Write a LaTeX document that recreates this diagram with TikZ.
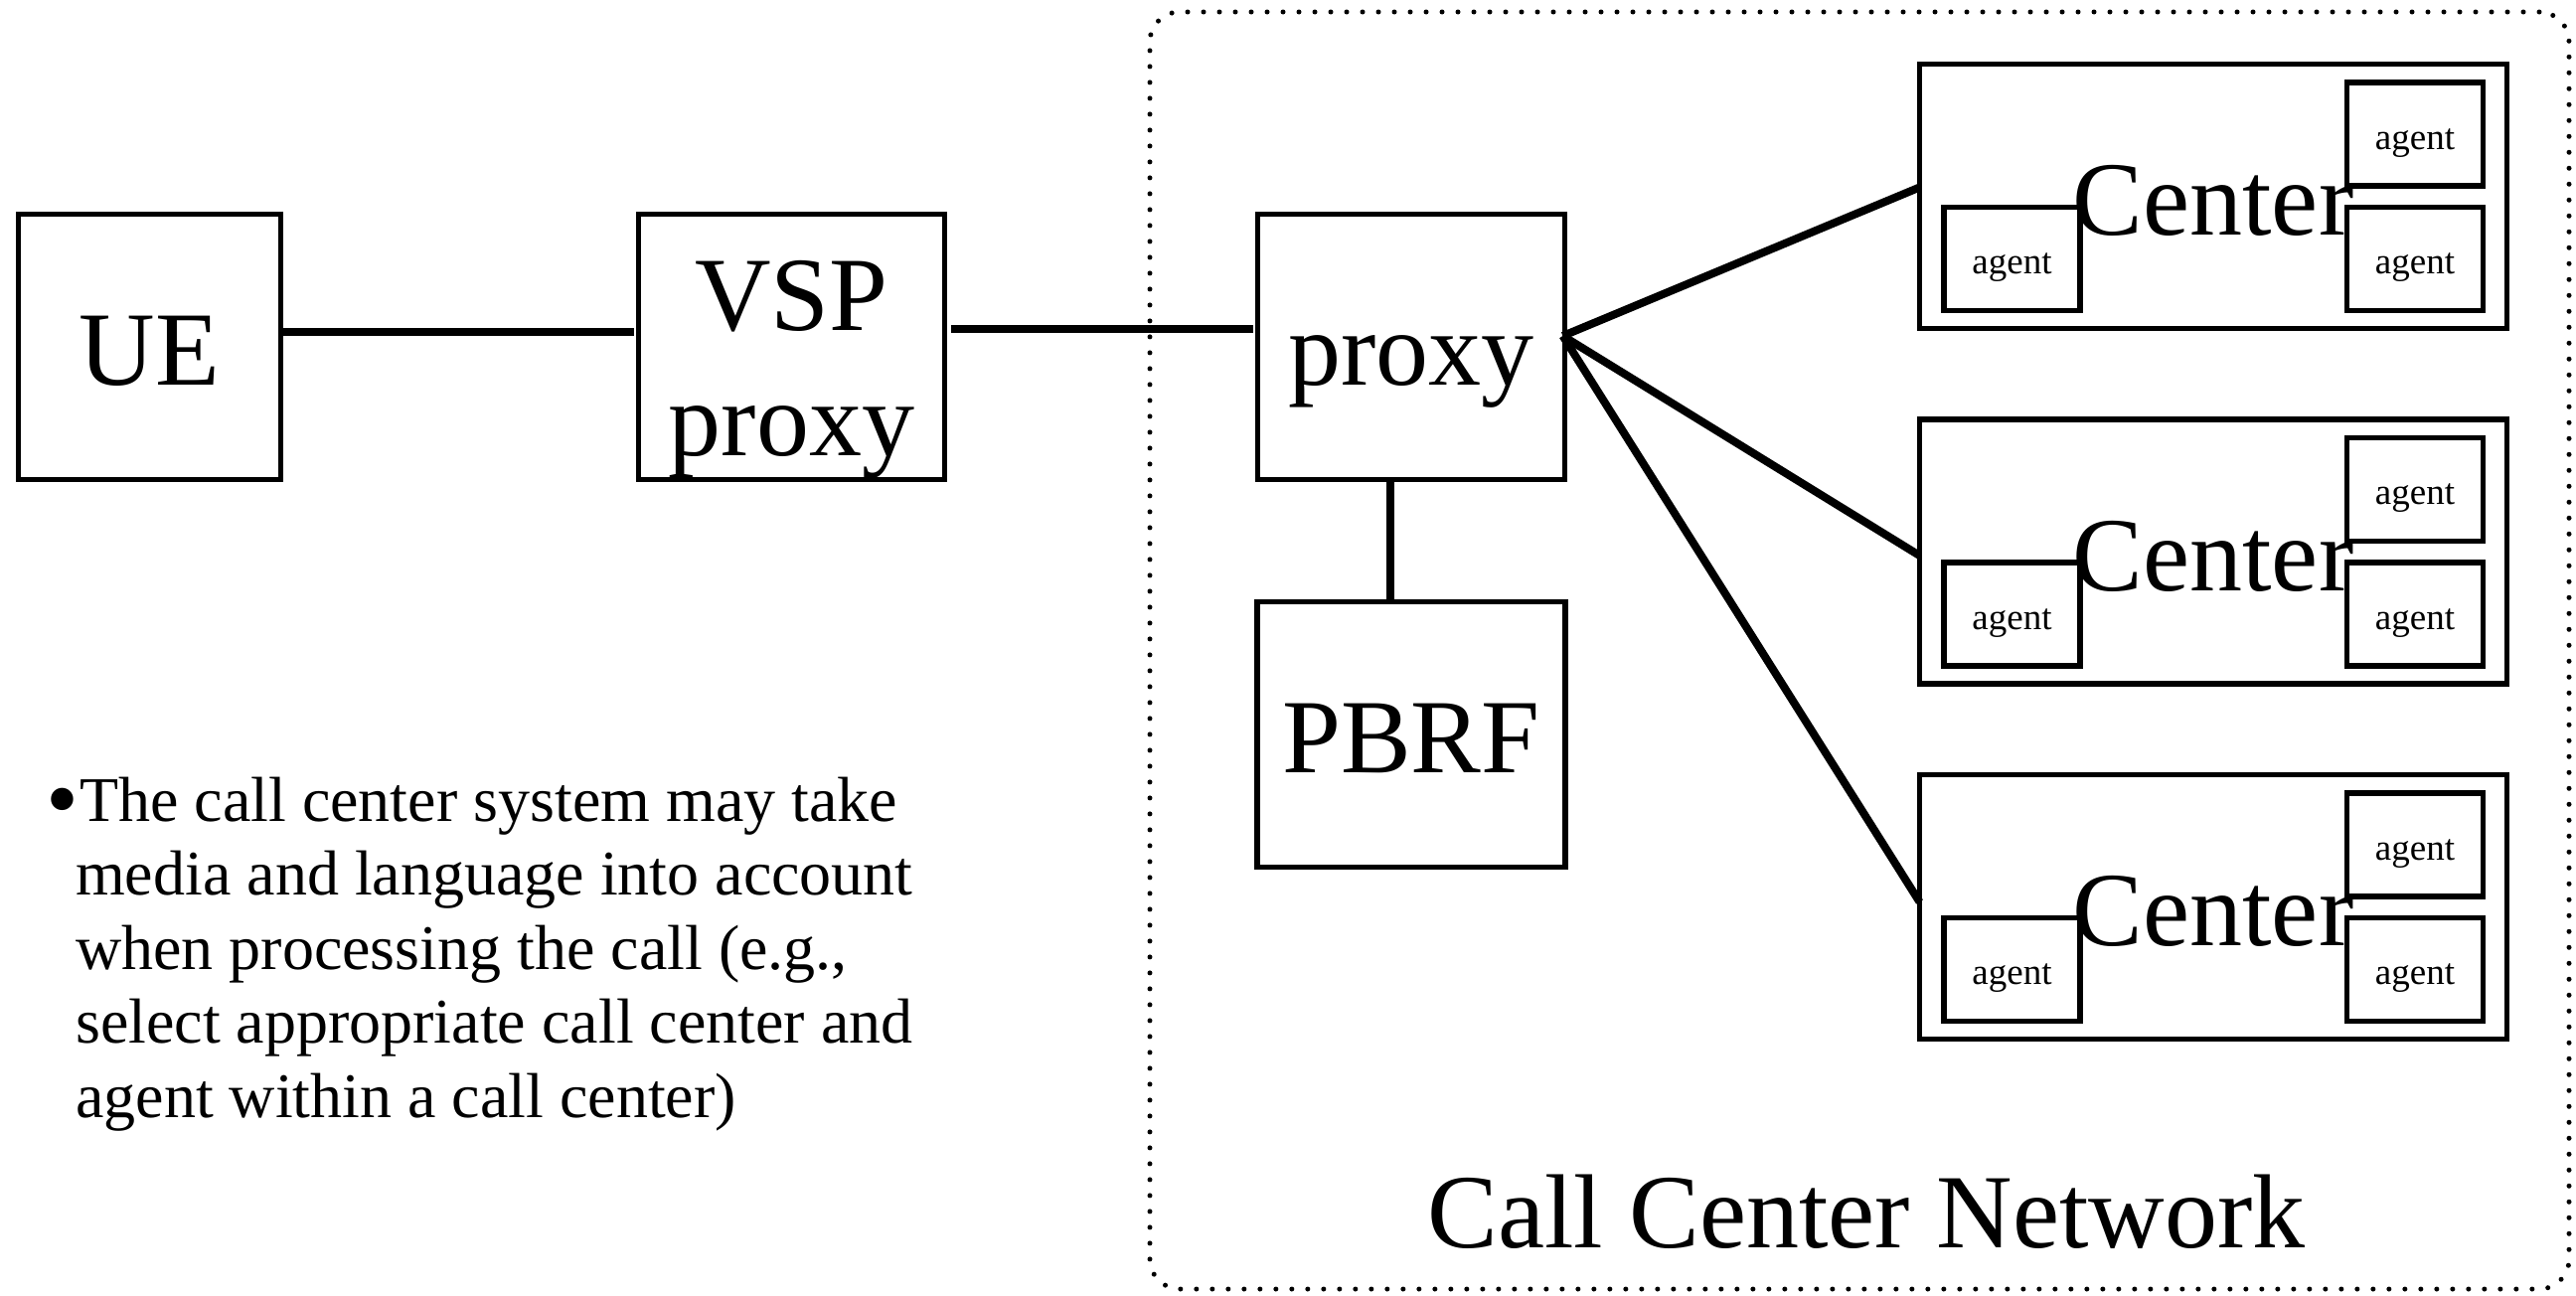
\documentclass[tikz,border=0pt]{standalone}
\usepackage{fontspec}
\setmainfont{Liberation Serif}
\usetikzlibrary{calc}
% lower (or raise) a label without changing the box size, so nodes stay centred
\newcommand\shiftbase[2]{\raisebox{#1}[0pt][0pt]{#2}}
\begin{document}
\begin{tikzpicture}[x=1pt,y=-1pt,
  plainbox/.style={draw, shape=rectangle, line width=5.5pt, inner sep=0pt, outer sep=0pt},
  bigtext/.style={font=\fontsize{106}{126}\selectfont},
  netbox/.style={plainbox, bigtext, minimum width=309pt, minimum height=267pt},
  centerbox/.style={plainbox, bigtext, minimum width=591pt, minimum height=266pt},
  agentbox/.style={plainbox, minimum width=137pt, minimum height=104pt, font=\fontsize{37}{44}\selectfont},
  link/.style={line width=8pt},
  ccnframe/.style={draw, shape=rectangle, line width=5pt, dash pattern=on 0pt off 16pt, line cap=round,
                   rounded corners=30pt, inner sep=0pt, outer sep=0pt}
]
\useasboundingbox (0,0) rectangle (2592,1304);

% call center network frame and its caption
\node[ccnframe, minimum width=1428pt, minimum height=1285pt] (ccn) at (1871,654.5) {};
\node[bigtext, anchor=base, inner sep=0pt] (ccnlabel) at (1878,1255) {Call Center Network};

% chain from the user equipment to the call center proxy
\node[netbox, minimum width=264pt] (ue) at (150.5,349) {\shiftbase{-38pt}{UE}};
\node[netbox, minimum width=308pt] (vsp) at (796.5,349)
  {\shiftbase{17pt}{\begin{tabular}[t]{@{}c@{}}VSP\\proxy\end{tabular}}};
\node[netbox] (proxy) at (1420,349) {\shiftbase{-38pt}{proxy}};
\node[netbox, minimum width=310pt] (pbrf) at (1420,739) {\shiftbase{-38pt}{PBRF}};

% three call centers, each with three agents
\foreach \i/\y in {1/197.5,2/555,3/912.5}{
  \node[centerbox] (c\i) at (2227,\y) {\shiftbase{-39pt}{Center}};
  \node[agentbox] (c\i ta) at ($(c\i.center)+(203,-62.5)$) {\shiftbase{-15pt}{agent}};
  \node[agentbox] (c\i ba) at ($(c\i.center)+(203,63)$) {\shiftbase{-15pt}{agent}};
  \node[agentbox] (c\i la) at ($(c\i.center)+(-202.5,63)$) {\shiftbase{-15pt}{agent}};
}

% connectors
\draw[link, shorten >=5pt] ($(ue.east)+(0,-15)$) -- ($(vsp.west)+(0,-15)$);
\draw[link, shorten <=6pt, shorten >=5pt] ($(vsp.east)+(0,-18)$) -- ($(proxy.west)+(0,-18)$);
\draw[link] ($(proxy.south)+(-21,0)$) -- ($(pbrf.north)+(-21,0)$);
\coordinate (hub) at ($(proxy.east)+(-2,-11)$);
\draw[link] (hub) -- ($(c1.west)+(0,-9)$);
\draw[link] (hub) -- ($(c2.west)+(0,4)$);
\draw[link] (hub) -- ($(c3.west)+(0,-5)$);

% explanatory note
\node[anchor=base west, inner sep=0pt, font=\fontsize{64}{74.5}\selectfont] (note) at (76,826)
  {\begin{tabular}[t]{@{}l@{}}
   \hspace*{4pt}\llap{\raisebox{-9pt}{\fontsize{94}{94}\selectfont •}\hspace{1pt}}The call center system may take\\
   media and language into account\\
   when processing the call (e.g.,\\
   select appropriate call center and\\
   agent within a call center)
   \end{tabular}};
\end{tikzpicture}
\end{document}
